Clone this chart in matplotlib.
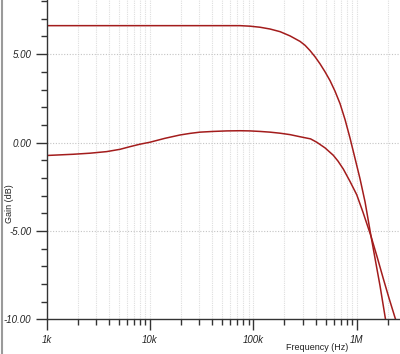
import numpy as np
import matplotlib
matplotlib.use('Agg')
import matplotlib.pyplot as plt
from matplotlib.ticker import FixedLocator, NullFormatter, MultipleLocator
from matplotlib.lines import Line2D

plt.rcParams['font.family'] = ['Liberation Sans', 'DejaVu Sans']

# === Datos ===
freq_alta = [1e3, 10e3, 74.4e3, 92.9e3, 116.1e3, 145e3, 181.3e3, 226.4e3,
             282.9e3, 316.2e3, 353.4e3, 395.1e3, 441.7e3, 493.6e3, 552e3,
             616.9e3, 689.5e3, 770.7e3, 861.4e3, 963e3, 1.076e6, 1.203e6,
             1.375e6, 1.503e6, 1.68e6, 1.878e6, 2.008e6]
gain_alta = [6.61, 6.61, 6.61, 6.58, 6.52, 6.42, 6.27, 6.03,
             5.72, 5.5, 5.2, 4.85, 4.45, 4.0, 3.5,
             2.9, 2.2, 1.3, 0.25, -0.9, -2.05, -3.35,
             -5.3, -6.55, -8.1, -9.83, -10.85]

freq_baja = [1e3, 1.816e3, 2.634e3, 3.821e3, 5.139e3, 6.419e3, 8.022e3, 10.01e3,
             13.94e3, 19.55e3, 24.42e3, 30.51e3, 40.76e3, 55.3e3, 74.4e3,
             92.9e3, 116.1e3, 145e3, 181.3e3, 226.4e3, 282.9e3, 357.4e3,
             410.5e3, 493.6e3, 593.8e3, 659.4e3, 742.1e3, 861.4e3, 1.0e6,
             1.151e6, 1.375e6, 1.572e6, 1.808e6, 2.053e6, 2.346e6, 2.565e6]
gain_baja = [-0.73, -0.66, -0.6, -0.51, -0.38, -0.23, -0.09, 0.02,
             0.24, 0.43, 0.52, 0.59, 0.63, 0.66, 0.67,
             0.66, 0.63, 0.59, 0.53, 0.45, 0.33, 0.21,
             0.02, -0.3, -0.72, -1.05, -1.5, -2.2, -2.95,
             -3.95, -5.3, -6.45, -7.7, -8.8, -9.9, -10.6]

xticks = [1e3, 1e4, 1e5, 1e6]
xlabels = ['1k', '10k', '100k', '1M']
yticks = [-10, -5, 0, 5]
ylabels = ['-10.00', '-5.00', '0.00', '5.00']

rojo = '#a31c1c'
gris_eje = '#333333'

# === Figura ===
fig = plt.figure(figsize=(4.0, 3.54), dpi=100)
ax = fig.add_axes([0.1163, 0.0975, 0.8837, 0.9025])

ax.set_xscale('log')
ax.set_xlim(1e3, 2.62e6)
ax.set_ylim(-10, 8.06)

# rejilla
minores = [m * 10 ** e for e in range(3, 7) for m in range(2, 10)]
for f in minores + xticks[1:]:
    ax.axvline(f, color='#dedede', lw=0.8, ls=(0, (1, 1)), zorder=0)
for g in [-5, 0, 5]:
    ax.axhline(g, color='#c4c4c4', lw=0.8, ls=(0, (1, 1.5)), zorder=0)

ax.plot(freq_alta, gain_alta, color=rojo, lw=1.1)
ax.plot(freq_baja, gain_baja, color=rojo, lw=1.1)

# ejes
for s in ['top', 'right']:
    ax.spines[s].set_visible(False)
for s in ['left', 'bottom']:
    ax.spines[s].set_color(gris_eje)
    ax.spines[s].set_linewidth(1.0)

ax.xaxis.set_major_locator(FixedLocator(xticks))
ax.set_xticklabels(xlabels)
ax.xaxis.set_minor_locator(FixedLocator(minores))
ax.xaxis.set_minor_formatter(NullFormatter())
ax.yaxis.set_major_locator(FixedLocator(yticks))
ax.set_yticklabels(ylabels)
ax.yaxis.set_minor_locator(MultipleLocator(1))

ax.tick_params(which='major', length=8, width=1.0, color=gris_eje,
               labelsize=7, pad=3)
ax.tick_params(which='minor', length=4, width=1.0, color=gris_eje)
for t in ax.get_xticklabels() + ax.get_yticklabels():
    t.set_fontstyle('italic')
    t.set_color('#222222')

fig.text(0.025, 0.424, 'Gain (dB)', rotation=90, ha='center', va='center',
         fontsize=6.5, color='#222222')
fig.text(0.793, 0.017, 'Frequency (Hz)', ha='center', va='center',
         fontsize=6.5, color='#222222')

# borde gris a la izquierda
fig.add_artist(Line2D([0.006, 0.006], [0, 1], transform=fig.transFigure,
                      color='#9a9a9a', lw=1.5))

plt.savefig('out.png', dpi=100)
